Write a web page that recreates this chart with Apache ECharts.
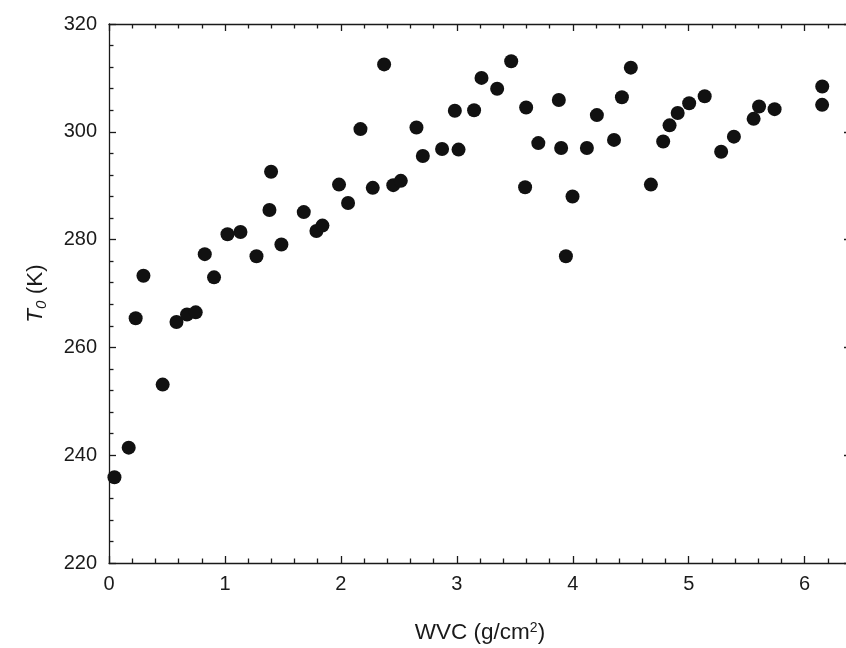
<!DOCTYPE html>
<html>
<head>
<meta charset="utf-8">
<script src="https://cdn.jsdelivr.net/npm/echarts@6/dist/echarts.min.js"></script>
<style>
html,body{margin:0;padding:0;background:#fff;}
#chart{width:846px;height:648px;}
</style>
</head>
<body>
<div id="chart"></div>
<script>
// WVC (g/cm^2)
var wvc = [0.047,0.170,0.230,0.297,0.463,0.582,0.673,0.748,0.826,0.906,
  1.022,1.134,1.272,1.384,1.398,1.487,1.680,1.789,1.841,1.984,
  2.062,2.169,2.275,2.373,2.452,2.517,2.652,2.707,2.873,2.983,
  3.015,3.149,3.213,3.348,3.469,3.589,3.598,3.703,3.880,3.900,
  3.941,3.998,4.122,4.208,4.356,4.424,4.501,4.674,4.780,4.835,
  4.905,5.004,5.138,5.280,5.390,5.560,5.607,5.741,6.152,6.151];
// T0 (K)
var t0 = [235.9,241.4,265.4,273.3,253.1,264.7,266.1,266.5,277.3,273.0,
  281.0,281.4,276.9,285.5,292.6,279.1,285.1,281.6,282.6,290.2,
  286.8,300.5,289.6,312.5,290.1,290.9,300.8,295.5,296.8,303.9,
  296.7,304.0,310.0,308.0,313.1,289.7,304.5,297.9,305.9,297.0,
  276.9,288.0,297.0,303.1,298.5,306.4,311.9,290.2,298.2,301.2,
  303.5,305.3,306.6,296.3,299.1,302.4,304.7,304.2,308.4,305.0];

var xMin = 0, xMax = 6.4, xStep = 1;
var yMin = 220, yMax = 320, yStep = 20;

var points = wvc.map(function (v, i) { return [v, t0[i]]; });

var FONT = 'Liberation Sans, Arial, sans-serif';
var lineStyle = { color: '#1a1a1a', width: 1.3 };
var tick = { show: true, inside: true, length: 7, lineStyle: lineStyle };
var minor = { show: true, splitNumber: 5, length: 4.5, lineStyle: lineStyle };

function xAxisDef(pos, showLabel) {
  return {
    type: 'value', position: pos, min: xMin, max: xMax, interval: xStep,
    axisLine: { show: true, onZero: false, lineStyle: lineStyle },
    axisTick: tick, minorTick: minor, splitLine: { show: false },
    axisLabel: {
      show: showLabel, margin: 11, fontFamily: FONT, fontSize: 20, color: '#1a1a1a',
      formatter: function (v) { return Math.abs(v - Math.round(v)) < 1e-9 ? String(Math.round(v)) : ''; }
    }
  };
}
function yAxisDef(pos, showLabel) {
  return {
    type: 'value', position: pos, min: yMin, max: yMax, interval: yStep,
    axisLine: { show: true, onZero: false, lineStyle: lineStyle },
    axisTick: tick, minorTick: minor, splitLine: { show: false },
    axisLabel: { show: showLabel, margin: 12, fontFamily: FONT, fontSize: 20, color: '#1a1a1a' }
  };
}

var xb = xAxisDef('bottom', true);
xb.name = 'WVC (g/cm{sup|2})';
xb.nameLocation = 'middle';
xb.nameGap = 58;
xb.nameTextStyle = {
  fontFamily: FONT, fontSize: 22.5, color: '#1a1a1a',
  rich: { sup: { fontFamily: FONT, fontSize: 14, color: '#1a1a1a', verticalAlign: 'top', padding: [0, 0, 10, 0] } }
};
var yl = yAxisDef('left', true);
yl.name = '{i|T}{sub|0}{n| (K)}';
yl.nameLocation = 'middle';
yl.nameGap = 60;
yl.nameTextStyle = {
  fontFamily: FONT, fontSize: 22.5, color: '#1a1a1a',
  rich: {
    i: { fontFamily: FONT, fontSize: 22.5, fontStyle: 'italic', color: '#1a1a1a' },
    sub: { fontFamily: FONT, fontSize: 15, fontStyle: 'italic', color: '#1a1a1a', padding: [11, 0, 0, 0] },
    n: { fontFamily: FONT, fontSize: 22.5, color: '#1a1a1a' }
  }
};

var chart = echarts.init(document.getElementById('chart'), null, { renderer: 'canvas' });
chart.setOption({
  backgroundColor: '#ffffff',
  animation: false,
  grid: { left: 109, top: 24, width: 742, height: 539, containLabel: false, outerBoundsMode: 'none' },
  xAxis: [xb, xAxisDef('top', false)],
  yAxis: [yl, yAxisDef('right', false)],
  series: [{
    type: 'scatter', xAxisIndex: 0, yAxisIndex: 0,
    data: points, symbol: 'circle', symbolSize: 14,
    itemStyle: { color: '#111111', opacity: 1 }
  }]
});
</script>
</body>
</html>
